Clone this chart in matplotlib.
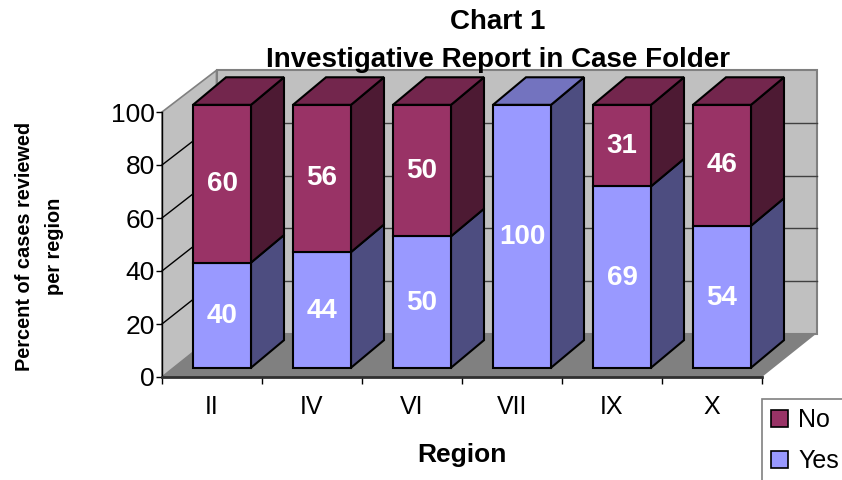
import matplotlib
matplotlib.use('Agg')
import matplotlib.pyplot as plt
from matplotlib.patches import Polygon, Patch

plt.rcParams['font.family'] = ['Liberation Sans', 'DejaVu Sans']

regions = ['II', 'IV', 'VI', 'VII', 'IX', 'X']
yes_pct = [40, 44, 50, 100, 69, 54]
no_pct = [60, 56, 50, 0, 31, 46]
yticks = [0, 20, 40, 60, 80, 100]

NO_FRONT, NO_SIDE, NO_TOP = '#993366', '#4d1a33', '#73264d'
YES_FRONT, YES_SIDE, YES_TOP = '#9999ff', '#4d4d80', '#7373bf'

fig = plt.figure(figsize=(8.42, 4.8), dpi=100)
# axes box = front plane of the 3D chart
ax = fig.add_axes([162 / 842, (480 - 377) / 480, 600 / 842, 265 / 480])
ax.set_xlim(0, 6)
ax.set_ylim(0, 100)
ax.patch.set_visible(False)

# depth of the box and of the bars, in data units
wall_dx, wall_dy = 0.545, 16.4
bar_dx, bar_dy = 0.33, 10.4
bar_w = 0.58
bar_lift = 3.5
bar_scale = 0.992


def poly(pts, face, edge='none', lw=0.0, z=1):
    ax.add_patch(Polygon(pts, closed=True, facecolor=face, edgecolor=edge,
                         linewidth=lw, zorder=z, clip_on=False, joinstyle='miter'))


# walls and floor
poly([(0, 0), (wall_dx, wall_dy), (wall_dx, 100 + wall_dy * 0.96), (0, 100)], '#c0c0c0', '#808080', 1.2)
poly([(wall_dx, wall_dy), (6 + wall_dx, wall_dy), (6 + wall_dx, 100 + wall_dy * 0.96), (wall_dx, 100 + wall_dy * 0.96)],
     '#c0c0c0', '#808080', 1.5)
poly([(0, 0), (6, 0), (6 + wall_dx, wall_dy), (wall_dx, wall_dy)], '#808080', z=1.5)

# gridlines
for v in yticks[1:-1]:
    wy = wall_dy + v * (100 + wall_dy * 0.96 - wall_dy) / 100
    ax.plot([0, wall_dx], [v, wy], color='black', lw=1, zorder=2, clip_on=False)
    ax.plot([wall_dx, 6 + wall_dx], [wy, wy], color='#404040', lw=1, zorder=2, clip_on=False)


def draw_box(x0, low, high, front, side, top, z, with_top):
    y0 = bar_lift + low * bar_scale
    y1 = bar_lift + high * bar_scale
    x1 = x0 + bar_w
    poly([(x1, y0), (x1 + bar_dx, y0 + bar_dy), (x1 + bar_dx, y1 + bar_dy), (x1, y1)], side, 'black', 1.5, z)
    if with_top:
        poly([(x0, y1), (x1, y1), (x1 + bar_dx, y1 + bar_dy), (x0 + bar_dx, y1 + bar_dy)], top, 'black', 1.5, z)
    poly([(x0, y0), (x1, y0), (x1, y1), (x0, y1)], front, 'black', 1.5, z + 0.1)


for i, name in enumerate(regions):
    x0 = i + 0.31
    z = 3 + i
    yes, no = yes_pct[i], no_pct[i]
    draw_box(x0, 0, yes, YES_FRONT, YES_SIDE, YES_TOP, z, no == 0)
    if no > 0:
        draw_box(x0, yes, yes + no, NO_FRONT, NO_SIDE, NO_TOP, z + 0.2, True)
    xc = x0 + bar_w / 2
    ax.text(xc, bar_lift + yes * bar_scale / 2 - 0.4, str(yes), color='white', fontsize=20, fontweight='bold',
            ha='center', va='center', zorder=20)
    if no > 0:
        ax.text(xc, bar_lift + (yes + no / 2) * bar_scale, str(no), color='white', fontsize=20,
                fontweight='bold', ha='center', va='center', zorder=20)

# axes
for s in ['top', 'right']:
    ax.spines[s].set_visible(False)
ax.spines['left'].set_linewidth(1.0)
ax.spines['bottom'].set_linewidth(2.0)
ax.spines['bottom'].set_color('#303030')
ax.spines['left'].set_zorder(2.5)
ax.spines['bottom'].set_zorder(2.5)
ax.set_yticks(yticks)
ax.set_xticks(range(7))
ax.set_xticklabels([])
ax.set_xticks([i + 0.5 for i in range(6)], minor=True)
ax.set_xticklabels(regions, minor=True)
ax.tick_params(axis='x', which='major', length=5, width=1)
ax.tick_params(axis='x', which='minor', length=0, pad=13, labelsize=18)
ax.tick_params(axis='y', length=4.5, width=1, pad=0.5, labelsize=19)

# titles
fig.text(498 / 842, 1 - 22 / 480, 'Chart 1', fontsize=20, fontweight='bold', ha='center', va='center')
fig.text(498 / 842, 1 - 60 / 480, 'Investigative Report in Case Folder', fontsize=20, fontweight='bold',
         ha='center', va='center')
fig.text(462 / 842, 1 - 455 / 480, 'Region', fontsize=19, fontweight='bold', ha='center', va='center')
fig.text(25 / 842, 1 - 246 / 480, 'Percent of cases reviewed', fontsize=14.4, fontweight='bold',
         rotation=90, ha='center', va='center')
fig.text(54 / 842, 1 - 246 / 480, 'per region', fontsize=14.4, fontweight='bold',
         rotation=90, ha='center', va='center')

# legend runs off the bottom right like the original
handles = [Patch(facecolor=NO_FRONT, edgecolor='black', linewidth=1.2),
           Patch(facecolor=YES_FRONT, edgecolor='black', linewidth=1.2)]
leg = fig.legend(handles, ['No', 'Yes'], loc='upper left', bbox_to_anchor=(762 / 842, 1 - 399 / 480),
                 bbox_transform=fig.transFigure, fontsize=18, frameon=True, fancybox=False, framealpha=1,
                 edgecolor='#808080', borderaxespad=0, handlelength=0.68, handleheight=0.68,
                 handletextpad=0.4, labelspacing=0.7, borderpad=0.36)
leg.get_frame().set_linewidth(1.2)

fig.savefig('out.png', dpi=100)
